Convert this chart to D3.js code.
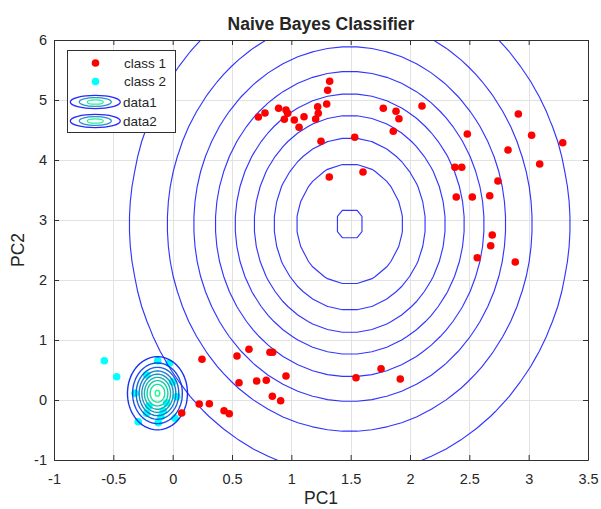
<!DOCTYPE html>
<html>
<head>
<meta charset="utf-8">
<script src="https://cdn.jsdelivr.net/npm/d3@7"></script>
<style>
  body { margin: 0; background: #fff; }
  svg { display: block; }
  text { font-family: "Liberation Sans", Arial, Helvetica, sans-serif; fill: #262626; }
</style>
</head>
<body>
<svg id="chart" width="601" height="509"></svg>
<script>
// ---- data -------------------------------------------------------------
const class1X = [1.323, 1.306, 1.298, 1.222, 1.227, 1.205, 0.893, 0.955, 0.969, 0.941,
                 1.025, 1.107, 1.065, 0.778, 0.722, 1.250, 1.534, 1.320, 1.604, 1.775,
                 1.882, 1.907, 1.859, 2.101, 2.483, 2.913, 3.025, 3.287, 2.826, 3.093,
                 2.379, 2.436, 2.741, 2.390, 2.525, 2.672, 2.693, 2.680, 2.567, 2.887,
                 0.247, 0.542, 0.643, 0.820, 0.843, 0.559, 0.708, 0.789, 0.955, 0.840,
                 0.910, 0.224, 0.309, 0.433, 0.477, 0.076, 1.545, 1.756, 1.918];
const class1Y = [5.312, 5.162, 4.933, 4.888, 4.778, 4.683, 4.862, 4.833, 4.778, 4.678,
                 4.667, 4.722, 4.545, 4.783, 4.717, 4.312, 4.378, 3.717, 3.800, 4.862,
                 4.812, 4.688, 4.478, 4.900, 4.433, 4.767, 4.412, 4.288, 4.167, 3.933,
                 3.878, 3.878, 3.650, 3.383, 3.383, 3.405, 2.750, 2.572, 2.372, 2.300,
                 0.678, 0.733, 0.845, 0.795, 0.795, 0.288, 0.317, 0.328, 0.400, 0.062,
                 -0.012, -0.067, -0.062, -0.178, -0.228, -0.217, 0.372, 0.522, 0.350];

const class2X = [-0.576, -0.472, -0.126, -0.028, -0.290, -0.121, 0.020, -0.317, 0.034, -0.219,
                 -0.200, -0.050, -0.080, -0.220, 0.000, -0.100];
const class2Y = [0.655, 0.388, 0.655, 0.612, -0.362, -0.378, -0.305, 0.112, 0.055, 0.417,
                 -0.100, -0.050, -0.180, -0.220, 0.300, -0.280];

// fitted Gaussian (per-feature) parameters of each class
const classMean1 = [1.492, 2.933];
const classStd1 = [0.882, 1.983];
const classMean2 = [-0.128, 0.112];
const classStd2 = [0.120, 0.290];

// contour levels of each class-conditional density
const levels1 = [0.01, 0.02, 0.03, 0.04, 0.05, 0.06, 0.07, 0.08, 0.09];
const levels2 = [0.5, 1.0, 1.5, 2.0, 2.5, 3.0, 3.5, 4.0, 4.5];

const xTicks = [-1, -0.5, 0, 0.5, 1, 1.5, 2, 2.5, 3, 3.5];
const yTicks = [-1, 0, 1, 2, 3, 4, 5, 6];
const seriesNames = ["class 1", "class 2", "data1", "data2"];

// ---- layout -----------------------------------------------------------
const svg = d3.select("#chart");
const L = 54, R = 588, T = 40, B = 460;
const x = d3.scaleLinear().domain([-1, 3.5]).range([L, R]);
const y = d3.scaleLinear().domain([-1, 6]).range([B, T]);

svg.append("rect").attr("width", 601).attr("height", 509).attr("fill", "#fff");

// winter colormap
const winter = t => d3.rgb(0, Math.round(255 * t), Math.round(255 * (1 - t / 2))).toString();

// grid lines
const grid = svg.append("g").attr("shape-rendering", "crispEdges");
grid.selectAll("line.gx").data(xTicks).join("line")
  .attr("x1", d => Math.round(x(d)) + 0.5).attr("x2", d => Math.round(x(d)) + 0.5)
  .attr("y1", T).attr("y2", B).attr("stroke", "#e2e2e2");
grid.selectAll("line.gy").data(yTicks).join("line")
  .attr("y1", d => Math.round(y(d)) + 0.5).attr("y2", d => Math.round(y(d)) + 0.5)
  .attr("x1", L).attr("x2", R).attr("stroke", "#e2e2e2");

svg.append("clipPath").attr("id", "plotClip")
  .append("rect").attr("x", L).attr("y", T).attr("width", R - L).attr("height", B - T);

const plot = svg.append("g").attr("clip-path", "url(#plotClip)");

// ---- density grids and contours ---------------------------------------
const npdf = (v, m, s) => Math.exp(-0.5 * ((v - m) / s) ** 2) / (s * Math.sqrt(2 * Math.PI));

// mesh of (2n+2) x (2n+2) nodes placed symmetrically around the class mean
function densityGrid(mean, std, step, n) {
  const nx = 2 * n + 2, ny = 2 * n + 2;
  const x0 = mean[0] - (n + 0.5) * step[0];
  const y0 = mean[1] - (n + 0.5) * step[1];
  const vals = new Float64Array(nx * ny);
  for (let j = 0; j < ny; j++) {
    for (let i = 0; i < nx; i++) {
      vals[j * nx + i] = npdf(x0 + i * step[0], mean[0], std[0]) * npdf(y0 + j * step[1], mean[1], std[1]);
    }
  }
  return { nx, ny, vals, x0, y0, step };
}

const grid1 = densityGrid(classMean1, classStd1, [0.125, 0.25], 24);
const grid2 = densityGrid(classMean2, classStd2, [0.02, 0.02], 40);
const cmax = Math.max(d3.max(grid1.vals), d3.max(grid2.vals));

function gridPath(g) {
  return d3.geoPath(d3.geoTransform({
    point(px, py) {
      this.stream.point(x(g.x0 + (px - 0.5) * g.step[0]), y(g.y0 + (py - 0.5) * g.step[1]));
    }
  }));
}

function drawContours(g, levels, width, opacity) {
  const polys = d3.contours().size([g.nx, g.ny]).thresholds(levels)(g.vals);
  const p = gridPath(g);
  plot.append("g").selectAll("path").data(polys).join("path")
    .attr("d", p)
    .attr("fill", "none")
    .attr("stroke", d => winter(d.value / cmax))
    .attr("stroke-opacity", opacity)
    .attr("stroke-width", width);
}

const pts1 = class1X.map((v, i) => [v, class1Y[i]]);
const pts2 = class2X.map((v, i) => [v, class2Y[i]]);

plot.append("g").selectAll("circle").data(pts2).join("circle")
  .attr("cx", d => x(d[0])).attr("cy", d => y(d[1])).attr("r", 3.8).attr("fill", "#00ffff");

drawContours(grid1, levels1, 1.15, 0.8);
drawContours(grid2, levels2, 1.4, 0.9);

plot.append("g").selectAll("circle").data(pts1).join("circle")
  .attr("cx", d => x(d[0])).attr("cy", d => y(d[1])).attr("r", 3.8).attr("fill", "#ff0000");

// ---- axes (box with inward ticks) -------------------------------------
const fmt = d => String(d);
const styleAxis = g => {
  g.select(".domain").attr("stroke", "#303030").attr("stroke-width", 1);
  g.selectAll(".tick line").attr("stroke", "#303030");
  g.selectAll("text").attr("fill", "#262626").style("font-size", "14.5px")
    .style("font-family", '"Liberation Sans", Arial, sans-serif');
};
svg.append("g").attr("transform", `translate(0,${B})`)
  .call(d3.axisBottom(x).tickValues(xTicks).tickFormat(fmt).tickSize(-5).tickSizeOuter(0).tickPadding(14))
  .call(styleAxis);
svg.append("g").attr("transform", `translate(0,${T})`)
  .call(d3.axisTop(x).tickValues(xTicks).tickFormat("").tickSize(-5).tickSizeOuter(0))
  .call(styleAxis);
svg.append("g").attr("transform", `translate(${L},0)`)
  .call(d3.axisLeft(y).tickValues(yTicks).tickFormat(fmt).tickSize(-5).tickSizeOuter(0).tickPadding(7))
  .call(styleAxis);
svg.append("g").attr("transform", `translate(${R},0)`)
  .call(d3.axisRight(y).tickValues(yTicks).tickFormat("").tickSize(-5).tickSizeOuter(0))
  .call(styleAxis);

// ---- titles -----------------------------------------------------------
svg.append("text").attr("x", (L + R) / 2).attr("y", 29.5).attr("text-anchor", "middle")
  .style("font-size", "17.5px").style("font-weight", "bold").text("Naive Bayes Classifier");
svg.append("text").attr("x", (L + R) / 2).attr("y", 504).attr("text-anchor", "middle")
  .style("font-size", "17.5px").text("PC1");
svg.append("text").attr("transform", `translate(23.5,${(T + B) / 2}) rotate(-90)`)
  .attr("text-anchor", "middle").style("font-size", "17.5px").text("PC2");

// ---- legend -----------------------------------------------------------
const lg = svg.append("g");
lg.append("rect").attr("x", 67.5).attr("y", 50.5).attr("width", 108).attr("height", 82)
  .attr("fill", "#fff").attr("stroke", "#303030").attr("stroke-width", 1);
const rowY = [63, 81.5, 102, 121];
lg.append("circle").attr("cx", 95.5).attr("cy", rowY[0]).attr("r", 3.8).attr("fill", "#ff0000");
lg.append("circle").attr("cx", 95.5).attr("cy", rowY[1]).attr("r", 3.8).attr("fill", "#00ffff");
[2, 3].forEach(k => {
  const g = lg.append("g");
  [[25, 6.6, 0.0], [16, 4.3, 0.5], [8, 2.2, 0.95]].forEach(([rx, ry, t]) => {
    g.append("ellipse").attr("cx", 95.3).attr("cy", rowY[k]).attr("rx", rx).attr("ry", ry)
      .attr("fill", "none").attr("stroke", winter(t)).attr("stroke-opacity", 0.85)
      .attr("stroke-width", 1.3);
  });
});
lg.selectAll("text.lab").data(seriesNames).join("text")
  .attr("x", (d, i) => i < 2 ? 124 : 123).attr("y", (d, i) => rowY[i]).attr("dy", "0.35em")
  .style("font-size", "13.5px").text(d => d);
</script>
</body>
</html>
